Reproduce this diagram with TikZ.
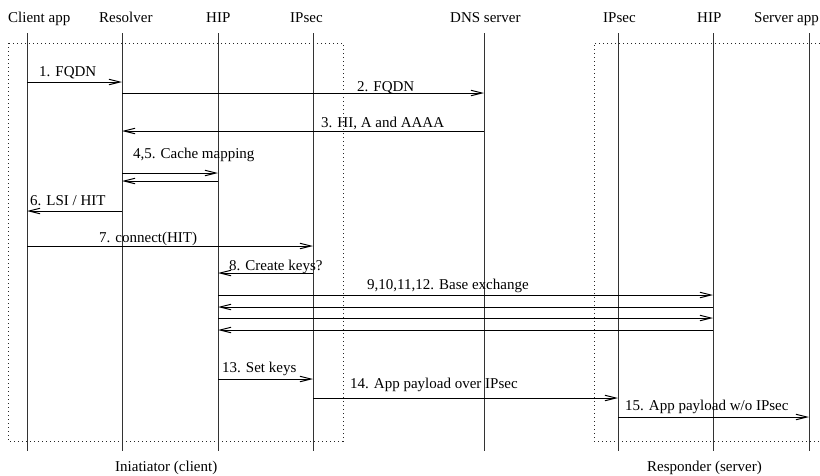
\documentclass[tikz,border=0pt]{standalone}
\usepackage{fontspec}
\setmainfont{Liberation Serif}
\usetikzlibrary{arrows.meta}
\tikzset{
  lifeline/.style={line width=1pt, black!80},
  msg/.style={line width=1pt, black, -{Straight Barb[length=11pt,width=5.5pt]}},
  lbl/.style={anchor=base west, inner sep=0pt, font=\fontsize{15}{18}\selectfont},
  groupbox/.style={line width=1pt, black!85, dash pattern=on 1pt off 3pt},
}
\begin{document}
\begin{tikzpicture}[x=1pt,y=-1pt]
\useasboundingbox (0,0) rectangle (820,475);
% group boxes
\draw[groupbox] (8,43) rectangle (343,441);
\draw[groupbox] (824,43) -- (594,43) -- (594,441) -- (824,441);
% headers
\node[lbl] (hC) at (8,22) {Client app};
\node[lbl] (hR) at (99,22) {Resolver};
\node[lbl] (hH) at (206,22) {HIP};
\node[lbl] (hI) at (290,22) {IPsec};
\node[lbl] (hD) at (450,22) {DNS server};
\node[lbl] (hI2) at (603,22) {IPsec};
\node[lbl] (hH2) at (697,22) {HIP};
\node[lbl] (hS) at (754,22) {Server app};
% lifelines
\foreach \n/\x in {C/27,R/122,H/218,I/313,D/484,I2/618,H2/713,S/809}{
  \coordinate (\n) at (\x,33);
  \coordinate (\n b) at (\x,451);
  \draw[lifeline] (\n) -- (\n b);
}
% messages
\draw[msg] (C |- 0,82) -- (R |- 0,82);
\node[lbl] (l1) at (39,76) {1. FQDN};
\draw[msg] (R |- 0,93) -- (D |- 0,93);
\node[lbl] (l2) at (357,91) {2. FQDN};
\draw[msg] (D |- 0,131) -- (R |- 0,131);
\node[lbl] (l3) at (321,127) {3. HI, A and AAAA};
\node[lbl] (l45) at (133,158) {4,5. Cache mapping};
\draw[msg] (R |- 0,173) -- (H |- 0,173);
\draw[msg] (H |- 0,181) -- (R |- 0,181);
\node[lbl] (l6) at (30,205) {6. LSI / HIT};
\draw[msg] (R |- 0,211) -- (C |- 0,211);
\node[lbl] (l7) at (99,242) {7. connect(HIT)};
\draw[msg] (C |- 0,246) -- (I |- 0,246);
\node[lbl] (l8) at (229,270) {8. Create keys?};
\draw[msg] (I |- 0,273) -- (H |- 0,273);
\node[lbl] (l9) at (367,289) {9,10,11,12. Base exchange};
\draw[msg] (H |- 0,295) -- (H2 |- 0,295);
\draw[msg] (H2 |- 0,307) -- (H |- 0,307);
\draw[msg] (H |- 0,318) -- (H2 |- 0,318);
\draw[msg] (H2 |- 0,330) -- (H |- 0,330);
\node[lbl] (l13) at (222,372) {13. Set keys};
\draw[msg] (H |- 0,379) -- (I |- 0,379);
\node[lbl] (l14) at (350,388) {14. App payload over IPsec};
\draw[msg] (I |- 0,398) -- (I2 |- 0,398);
\node[lbl] (l15) at (625,410) {15. App payload w/o IPsec};
\draw[msg] (I2 |- 0,417) -- (S |- 0,417);
% group labels
\node[lbl] (gI) at (115,471) {Iniatiator (client)};
\node[lbl] (gR) at (647,471) {Responder (server)};
\end{tikzpicture}
\end{document}
